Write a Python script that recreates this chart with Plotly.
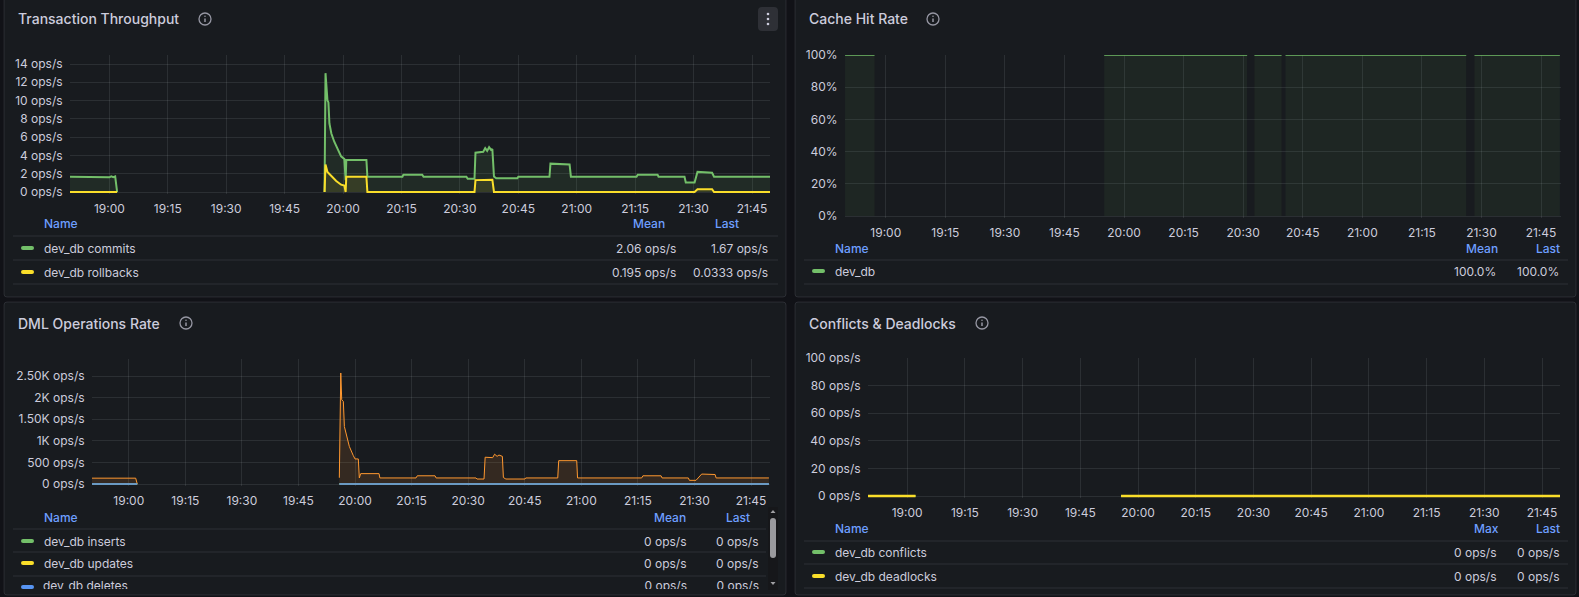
import pandas as pd
import plotly.graph_objects as go

W, H = 1579, 597
DAY = "2024-05-14"

# ---- Transaction Throughput ----
commits_t = ["18:49:45", "18:59:30", "19:00:00", "19:00:30", "19:01:00", "19:01:30", "19:02:00", "19:02:15",
             "19:55:15", "19:55:30", "19:56:00", "19:56:15", "19:56:30", "19:57:00", "19:57:45", "19:58:15",
             "19:59:00", "19:59:30", "20:00:20", "20:00:40", "20:00:50", "20:06:00", "20:06:15", "20:15:15",
             "20:15:30", "20:20:20", "20:20:40", "20:31:40", "20:32:00", "20:33:45", "20:34:00", "20:36:00",
             "20:36:30", "20:37:00", "20:37:30", "20:38:00", "20:38:20", "20:38:45", "20:39:20", "20:44:45",
             "20:45:00", "20:53:00", "20:53:15", "20:58:10", "20:58:30", "21:15:20", "21:15:40", "21:20:45",
             "21:21:00", "21:27:40", "21:28:00", "21:30:15", "21:31:00", "21:34:45", "21:35:15", "21:49:45"]
commits_v = [1.67, 1.67, 1.6, 1.72, 1.62, 1.7, 0, None,
             0, 13.0, 10.0, 9.8, 7.5, 6.4, 5.5, 5.0,
             4.3, 3.9, 3.6, 1.3, 3.5, 3.5, 1.67, 1.67,
             1.9, 1.9, 1.67, 1.67, 1.45, 1.45, 4.3, 4.4,
             4.8, 4.5, 4.9, 4.6, 4.7, 1.7, 1.5, 1.5,
             1.67, 1.67, 3.1, 3.0, 1.67, 1.67, 1.9, 1.9,
             1.67, 1.67, 1.05, 1.05, 2.2, 2.1, 1.67, 1.67]
rollbacks_t = ["18:49:45", "19:02:00", "19:02:15", "19:55:15", "19:55:30", "19:56:00", "19:57:00", "19:58:15",
               "19:59:30", "20:00:20", "20:00:40", "20:00:50", "20:06:00", "20:06:15", "20:33:45", "20:34:00",
               "20:38:20", "20:38:45", "21:30:15", "21:31:00", "21:34:45", "21:35:15", "21:49:45"]
rollbacks_v = [0, 0, None, 0, 3.0, 2.2, 1.7, 1.2,
               0.8, 0.7, 0, 1.67, 1.67, 0, 0, 1.3,
               1.35, 0, 0, 0.3, 0.3, 0, 0]
tx_ticks = [0, 2, 4, 6, 8, 10, 12, 14]
tx_ticktext = ["0 ops/s", "2 ops/s", "4 ops/s", "6 ops/s", "8 ops/s", "10 ops/s", "12 ops/s", "14 ops/s"]
tx_names = ["dev_db commits", "dev_db rollbacks"]
tx_mean = ["2.06 ops/s", "0.195 ops/s"]
tx_last = ["1.67 ops/s", "0.0333 ops/s"]

# ---- Cache Hit Rate ----
cache_t = ["18:49:45", "18:57:10", "18:57:20", "19:55:00", "20:31:00", "20:31:30", "20:32:50", "20:39:40",
           "20:40:00", "20:40:40", "21:26:10", "21:27:00", "21:28:15", "21:49:45"]
cache_v = [100, 100, None, 100, 100, None, 100, 100, None, 100, 100, None, 100, 100]
cache_ticks = [0, 20, 40, 60, 80, 100]
cache_ticktext = ["0%", "20%", "40%", "60%", "80%", "100%"]
cache_names = ["dev_db"]
cache_mean = ["100.0%"]
cache_last = ["100.0%"]

# ---- DML Operations Rate ----
dml_zero_t = ["18:49:45", "19:02:15", "19:02:30", "19:55:50", "21:49:45"]
inserts_v = [0, 0, None, 0, 0]
updates_v = [0, 0, None, 0, 0]
deletes_v = [0, 0, None, 0, 0]
fetched_t = ["18:49:45", "19:01:50", "19:02:15", "19:02:30", "19:55:50", "19:56:13", "19:56:28", "19:56:54",
             "19:57:10", "19:57:48", "19:58:29", "19:59:33", "20:00:00", "20:00:52", "20:01:08", "20:01:30",
             "20:06:22", "20:06:35", "20:16:10", "20:16:30", "20:21:13", "20:21:30", "20:32:05", "20:32:20",
             "20:34:12", "20:34:30", "20:36:30", "20:37:00", "20:37:40", "20:38:10", "20:39:04", "20:39:20",
             "20:40:00", "20:45:04", "20:45:15", "20:53:45", "20:54:00", "20:58:47", "20:59:00", "21:16:00",
             "21:16:20", "21:21:09", "21:21:25", "21:28:23", "21:28:40", "21:30:25", "21:31:55", "21:35:28",
             "21:35:45", "21:49:45"]
fetched_v = [135, 135, 0, None, 145, 2570, 1950, 1910,
             1330, 1100, 870, 655, 580, 580, 140, 240,
             240, 140, 140, 190, 190, 140, 140, 115,
             115, 620, 610, 690, 640, 670, 640, 150,
             115, 115, 140, 140, 540, 540, 140, 140,
             190, 190, 140, 140, 85, 85, 230, 220,
             140, 140]
dml_ticks = [0, 500, 1000, 1500, 2000, 2500]
dml_ticktext = ["0 ops/s", "500 ops/s", "1K ops/s", "1.50K ops/s", "2K ops/s", "2.50K ops/s"]
dml_names = ["dev_db inserts", "dev_db updates", "dev_db deletes"]
dml_mean = ["0 ops/s", "0 ops/s", "0 ops/s"]
dml_last = ["0 ops/s", "0 ops/s", "0 ops/s"]

# ---- Conflicts & Deadlocks ----
conf_t = ["18:49:45", "19:02:10", "19:02:20", "19:55:35", "21:49:45"]
conflicts_v = [0, 0, None, 0, 0]
deadlocks_v = [0, 0, None, 0, 0]
conf_ticks = [0, 20, 40, 60, 80, 100]
conf_ticktext = ["0 ops/s", "20 ops/s", "40 ops/s", "60 ops/s", "80 ops/s", "100 ops/s"]
conf_names = ["dev_db conflicts", "dev_db deadlocks"]
conf_max = ["0 ops/s", "0 ops/s"]
conf_last = ["0 ops/s", "0 ops/s"]

# ---- styling ----
FONT = "Inter"
CANVAS = "#111217"
PANEL = "#181b1f"
BORDER = "rgba(204,204,220,0.12)"
GRID = "rgba(240,250,255,0.09)"
TEXT = "#ccccdc"
HEAD = "#6e9fff"
GREEN, YELLOW, BLUE, ORANGE = "#73bf69", "#fade2a", "#5794f2", "#ff9830"


def px(x):
    return x / W


def py(y):
    return 1 - y / H


def ts(hms):
    return f"{DAY} {hms}"


def span(p0, v0, p1, v1, lo, hi):
    k = (v1 - v0) / (p1 - p0)
    return [v0 + (lo - p0) * k, v0 + (hi - p0) * k]


def time_range(p20, p2145, lo, hi):
    base = pd.Timestamp(f"{DAY} 20:00:00")
    mins = span(p20, 0, p2145, 105, lo, hi)
    return [(base + pd.Timedelta(minutes=m)).strftime("%Y-%m-%d %H:%M:%S") for m in mins]


def rrect_path(x0, y0, x1, y1, r):
    X = lambda v: f"{px(v):.6f}"
    Y = lambda v: f"{py(v):.6f}"
    return (f"M {X(x0 + r)},{Y(y0)} L {X(x1 - r)},{Y(y0)} Q {X(x1)},{Y(y0)} {X(x1)},{Y(y0 + r)} "
            f"L {X(x1)},{Y(y1 - r)} Q {X(x1)},{Y(y1)} {X(x1 - r)},{Y(y1)} "
            f"L {X(x0 + r)},{Y(y1)} Q {X(x0)},{Y(y1)} {X(x0)},{Y(y1 - r)} "
            f"L {X(x0)},{Y(y0 + r)} Q {X(x0)},{Y(y0)} {X(x0 + r)},{Y(y0)} Z")


shapes = []
annotations = []


def rrect(x0, y0, x1, y1, r, fill, line="rgba(0,0,0,0)", lw=0, layer="below"):
    shapes.append(dict(type="path", path=rrect_path(x0, y0, x1, y1, r), xref="paper", yref="paper",
                       fillcolor=fill, line=dict(color=line, width=lw), layer=layer))


def hline(x0, x1, y, color=BORDER):
    shapes.append(dict(type="line", xref="paper", yref="paper", x0=px(x0), x1=px(x1), y0=py(y), y1=py(y),
                       line=dict(color=color, width=1), layer="below"))


def circle(cx, cy, r, fill=None, line=None, lw=0):
    shapes.append(dict(type="circle", xref="paper", yref="paper", x0=px(cx - r), x1=px(cx + r),
                       y0=py(cy + r), y1=py(cy - r), fillcolor=fill or "rgba(0,0,0,0)",
                       line=dict(color=line or "rgba(0,0,0,0)", width=lw), layer="above"))


def label(x, y, text, anchor="left", color=TEXT, size=12, weight=400):
    annotations.append(dict(x=px(x), y=py(y), xref="paper", yref="paper", text=text, showarrow=False,
                            xanchor=anchor, yanchor="middle", borderpad=0,
                            font=dict(family=FONT, size=size, color=color, weight=weight)))


def info_icon(cx, cy):
    c = "rgba(204,204,220,0.7)"
    circle(cx, cy, 6, line=c, lw=1.3)
    shapes.append(dict(type="line", xref="paper", yref="paper", x0=px(cx), x1=px(cx), y0=py(cy + 3),
                       y1=py(cy - 0.5), line=dict(color=c, width=1.5), layer="above"))
    circle(cx, cy - 2.8, 0.8, fill=c)


def swatch(x, y, color):
    rrect(x, y - 2, x + 13, y + 2, 2, color, layer="above")


# panels
for (x0, y0, x1, y1) in [(4, -6, 786, 297), (795, -6, 1576, 297), (4, 302, 786, 595), (795, 302, 1576, 595)]:
    rrect(x0, y0, x1, y1, 3, PANEL, BORDER, 1)

fig = go.Figure()

# axes geometry: x domain px, y domain px (bottom, top), x calibration (20:00 px, 21:45 px), y calibration
panels = {
    1: dict(xd=(70, 770), yd=(194, 55), xc=(343, 752), yc=(192, 0, 64, 14), tv=tx_ticks, tt=tx_ticktext),
    2: dict(xd=(845, 1561), yd=(218, 55), xc=(1124, 1541), yc=(216, 0, 55, 100), tv=cache_ticks, tt=cache_ticktext),
    3: dict(xd=(92, 770), yd=(486, 359), xc=(355, 751), yc=(484, 0, 376, 2500), tv=dml_ticks, tt=dml_ticktext),
    4: dict(xd=(868, 1560), yd=(498, 358), xc=(1138, 1542), yc=(496, 0, 358, 100), tv=conf_ticks, tt=conf_ticktext),
}
tick_font = dict(family=FONT, size=12, color=TEXT)
layout_axes = {}
for i, p in panels.items():
    s = "" if i == 1 else str(i)
    layout_axes[f"xaxis{s}"] = dict(
        domain=[px(p["xd"][0]), px(p["xd"][1])], anchor=f"y{s}", type="date",
        range=time_range(p["xc"][0], p["xc"][1], p["xd"][0], p["xd"][1]),
        tick0=ts("19:00:00"), dtick=900000, tickformat="%H:%M",
        showgrid=True, gridcolor=GRID, gridwidth=1, zeroline=False, showline=False, automargin=False,
        ticks="outside", ticklen=4, tickcolor="rgba(0,0,0,0)", tickfont=tick_font, fixedrange=True)
    a, va, b, vb = p["yc"]
    layout_axes[f"yaxis{s}"] = dict(
        domain=[py(p["yd"][0]), py(p["yd"][1])], anchor=f"x{s}",
        range=span(a, va, b, vb, p["yd"][0], p["yd"][1]),
        tickvals=p["tv"], ticktext=p["tt"], automargin=False,
        showgrid=True, gridcolor=GRID, gridwidth=1, zeroline=False, showline=False,
        ticks="outside", ticklen=4, tickcolor="rgba(0,0,0,0)", tickfont=tick_font, fixedrange=True)


def series(t, v, name, color, width, ax, fill=None):
    # one trace per unbroken run so the area fill does not bridge the data gaps
    s = "" if ax == 1 else str(ax)
    runs, cur = [], []
    for tt, vv in zip(t, v):
        if vv is None:
            if cur:
                runs.append(cur)
            cur = []
        else:
            cur.append((tt, vv))
    if cur:
        runs.append(cur)
    for run in runs:
        fig.add_trace(go.Scatter(
            x=[ts(a) for a, _ in run], y=[b for _, b in run], name=name, mode="lines",
            line=dict(color=color, width=width), fill="tozeroy" if fill else None, fillcolor=fill,
            xaxis=f"x{s}", yaxis=f"y{s}", hoverinfo="skip"))


series(commits_t, commits_v, "dev_db commits", GREEN, 2, 1, "rgba(115,191,105,0.1)")
series(rollbacks_t, rollbacks_v, "dev_db rollbacks", YELLOW, 2, 1, "rgba(250,222,42,0.1)")
series(cache_t, cache_v, "dev_db", GREEN, 1.5, 2, "rgba(115,191,105,0.07)")
series(fetched_t, fetched_v, "dev_db fetched", ORANGE, 1, 3, "rgba(255,152,48,0.12)")
series(dml_zero_t, inserts_v, "dev_db inserts", GREEN, 1, 3)
series(dml_zero_t, updates_v, "dev_db updates", YELLOW, 1, 3)
series(dml_zero_t, deletes_v, "dev_db deletes", BLUE, 1.5, 3)
series(conf_t, conflicts_v, "dev_db conflicts", GREEN, 2, 4)
series(conf_t, deadlocks_v, "dev_db deadlocks", YELLOW, 2.5, 4)

# titles
for x, y, t, ix in [(17, 19, "Transaction Throughput", 205), (808, 19, "Cache Hit Rate", 933),
                    (17, 323, "DML Operations Rate", 186), (808, 323, "Conflicts & Deadlocks", 982)]:
    label(x, y, t, size=14, weight=500)
    info_icon(ix, y)

# panel menu button (hover state)
rrect(758, 7, 778, 31, 4, "rgba(204,204,220,0.12)", layer="above")
for yy in (14, 19, 24):
    circle(768, yy, 1.3, fill=TEXT)


def legend_table(left, sw_x, head_y, row_ys, names, colors, heads, head_cx, cols, col_rx, sep, sep_x1):
    label(left, head_y, "Name", color=HEAD, weight=500)
    for h, cx in zip(heads, head_cx):
        label(cx, head_y, h, anchor="center", color=HEAD, weight=500)
    for yy in sep:
        hline(sep_x1[0], sep_x1[1], yy)
    for k, (yy, nm, c) in enumerate(zip(row_ys, names, colors)):
        swatch(sw_x, yy, c)
        label(left, yy, nm)
        for col, rx in zip(cols, col_rx):
            label(rx, yy, col[k], anchor="right")


legend_table(43, 21, 223, [248, 272], tx_names, [GREEN, YELLOW], ["Mean", "Last"], [649, 727],
             [tx_mean, tx_last], [677, 769], [236, 260, 284], (13, 778))
legend_table(834, 812, 248, [271], cache_names, [GREEN], ["Mean", "Last"], [1482, 1548],
             [cache_mean, cache_last], [1497, 1560], [260, 284], (804, 1568))
legend_table(43, 21, 517, [541, 563], dml_names[:2], [GREEN, YELLOW], ["Mean", "Last"], [670, 738],
             [dml_mean, dml_last], [687, 759], [529, 552, 576], (13, 766))
legend_table(834, 812, 528, [552, 576], conf_names, [GREEN, YELLOW], ["Max", "Last"], [1486, 1548],
             [conf_max, conf_last], [1497, 1560], [541, 564, 588], (804, 1568))

# third DML legend row is cut off by the scrolling legend box
swatch(21, 587, BLUE)
fig.add_trace(go.Scatter(
    x=[43, 687, 759], y=[587, 587, 587], mode="text",
    text=[dml_names[2], dml_mean[2], dml_last[2]],
    textposition=["middle right", "middle left", "middle left"],
    textfont=dict(family=FONT, size=12, color=TEXT), cliponaxis=True,
    xaxis="x5", yaxis="y5", hoverinfo="skip"))
layout_axes["xaxis5"] = dict(domain=[0, 1], range=[0, W], visible=False, anchor="y5", fixedrange=True,
                             automargin=False)
layout_axes["yaxis5"] = dict(domain=[py(589), py(578)], range=[589, 578], visible=False, anchor="x5",
                             fixedrange=True, automargin=False)

# scrollbar of the DML legend
shapes.append(dict(type="rect", xref="paper", yref="paper", x0=px(768), x1=px(778), y0=py(590), y1=py(507),
                   fillcolor="#16171a", line=dict(width=0), layer="above"))
rrect(770, 518, 776, 558, 3, "#9a9a9e", layer="above")
arrow = "#a0a0a4"
shapes.append(dict(type="path", xref="paper", yref="paper", fillcolor=arrow, line=dict(width=0), layer="above",
                   path=f"M {px(770.5)},{py(513)} L {px(775.5)},{py(513)} L {px(773)},{py(510)} Z"))
shapes.append(dict(type="path", xref="paper", yref="paper", fillcolor=arrow, line=dict(width=0), layer="above",
                   path=f"M {px(770.5)},{py(582)} L {px(775.5)},{py(582)} L {px(773)},{py(585)} Z"))

fig.update_layout(
    width=W, height=H, margin=dict(l=0, r=0, t=0, b=0, pad=0, autoexpand=False), showlegend=False,
    paper_bgcolor=CANVAS, plot_bgcolor="rgba(0,0,0,0)",
    font=dict(family=FONT, color=TEXT, size=12),
    shapes=shapes, annotations=annotations, **layout_axes)

fig.write_html("out.html", config={"displayModeBar": False},
               post_script="document.body.style.margin='0';")
